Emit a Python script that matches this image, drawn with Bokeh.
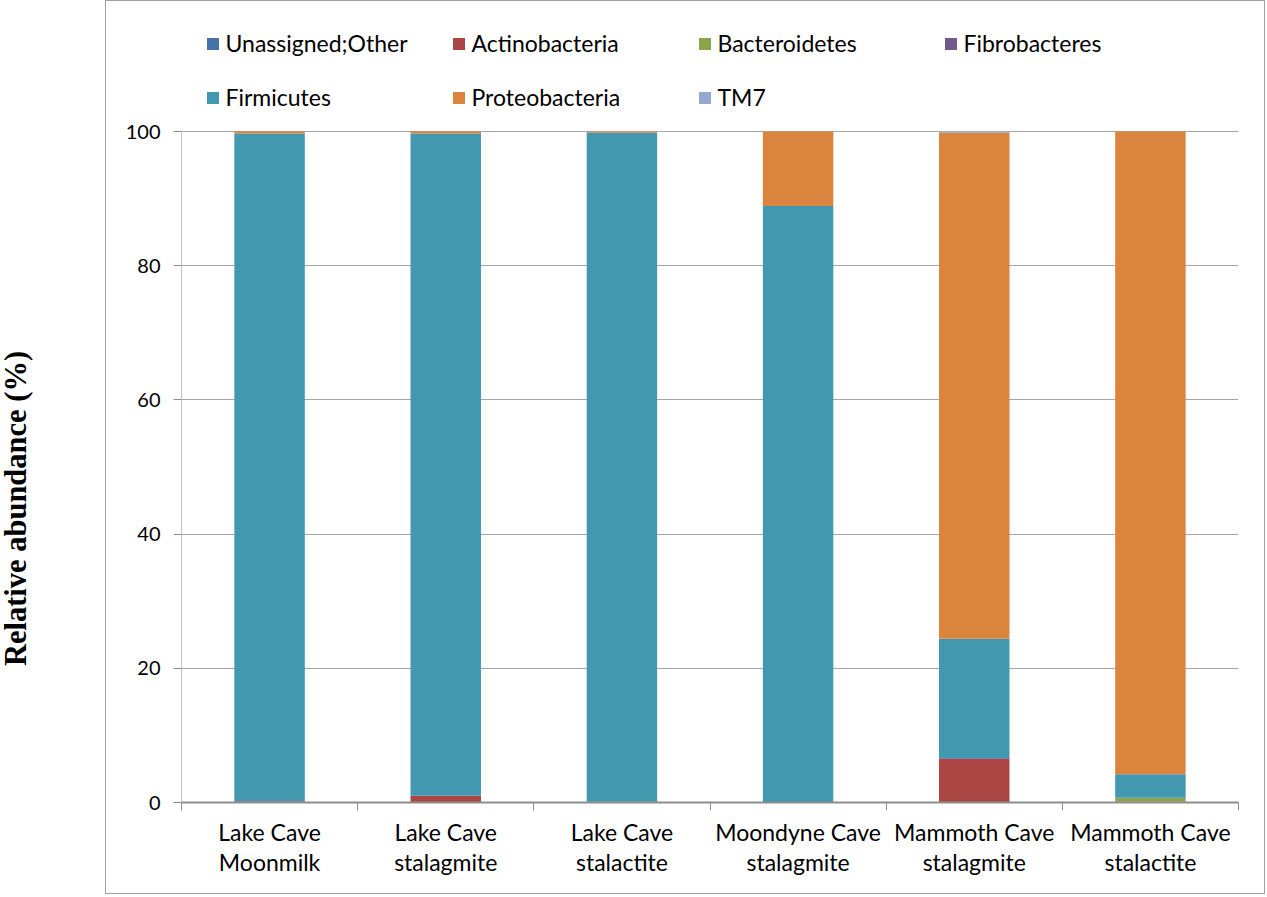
import math
from bokeh.plotting import figure
from bokeh.layouts import row
from bokeh.models import (ColumnDataSource, FixedTicker, Legend, LegendItem,
                          Label, Range1d)
from bokeh.embed import file_html
from bokeh.resources import INLINE

samples = ["Lake Cave\nMoonmilk", "Lake Cave\nstalagmite", "Lake Cave\nstalactite",
           "Moondyne Cave\nstalagmite", "Mammoth Cave\nstalagmite", "Mammoth Cave\nstalactite"]
phyla = ["Unassigned;Other", "Actinobacteria", "Bacteroidetes", "Fibrobacteres",
         "Firmicutes", "Proteobacteria", "TM7"]
colors = ["#4572A7", "#AA4643", "#89A54E", "#71588F", "#4198AF", "#DB843D", "#93A9CF"]

unassigned = [0.0, 0.0, 0.0, 0.0, 0.0, 0.0]
actinobacteria = [0.2, 1.0, 0.1, 0.0, 6.5, 0.1]
bacteroidetes = [0.0, 0.0, 0.0, 0.0, 0.0, 0.6]
fibrobacteres = [0.0, 0.0, 0.0, 0.0, 0.1, 0.0]
firmicutes = [99.5, 98.7, 99.7, 88.9, 17.8, 3.5]
proteobacteria = [0.3, 0.3, 0.2, 11.1, 75.4, 95.8]
tm7 = [0.0, 0.0, 0.0, 0.0, 0.2, 0.0]
y_ticks = [0, 20, 40, 60, 80, 100]

keys = ["k%d" % i for i in range(len(phyla))]
series = [unassigned, actinobacteria, bacteroidetes, fibrobacteres,
          firmicutes, proteobacteria, tm7]
data = {"x": [i + 0.5 for i in range(len(samples))]}
for k, s in zip(keys, series):
    data[k] = s
source = ColumnDataSource(data)

FONT = "Lato"
AX = "#8C8C8C"
H = 894
BOTTOM = 93                 # space below the x axis
PLOT_H = 671                # pixel height of the 0..100 span
FRAME_H = H - BOTTOM
Y_END = 100 * FRAME_H / PLOT_H   # extra headroom above 100 holds the legend

# left strip holding the y-axis title (outside the chart border)
t = figure(width=105, height=H, x_range=Range1d(0, 1), y_range=Range1d(0, H),
           x_axis_type=None, y_axis_type=None, output_backend="svg",
           toolbar_location=None, min_border=0)
t.outline_line_color = None
t.add_layout(Label(x=0.15, y=H - 567, angle=math.pi / 2, text="Relative abundance (%)",
                   text_font="Liberation Serif", text_font_style="bold",
                   text_font_size="30.5px", text_align="center",
                   text_baseline="middle", text_color="black"))

p = figure(width=1160, height=H, x_range=Range1d(0, len(samples)), y_range=Range1d(0, Y_END),
           output_backend="svg", toolbar_location=None,
           min_border_left=75, min_border_right=28, min_border_top=0, min_border_bottom=BOTTOM)
p.styles = {"border": "1px solid #A0A0A0", "box-sizing": "border-box"}
p.outline_line_color = None

renderers = p.vbar_stack(keys, x="x", width=0.4, color=colors, source=source, line_width=0)

# y axis (line limited to 0..100)
p.yaxis.ticker = FixedTicker(ticks=y_ticks, minor_ticks=[])
p.yaxis.axis_line_color = None
p.segment(x0=[0], y0=[y_ticks[0]], x1=[0], y1=[y_ticks[-1]], line_color=AX, line_width=1)
p.yaxis.major_tick_line_color = AX
p.yaxis.major_tick_out = 8
p.yaxis.major_tick_in = 0
p.yaxis.major_label_text_font = FONT
p.yaxis.major_label_text_font_size = "20px"
p.yaxis.major_label_text_color = "black"
p.yaxis.major_label_standoff = 13

# x axis
p.xaxis.ticker = FixedTicker(ticks=[i + 0.5 for i in range(len(samples))],
                             minor_ticks=list(range(len(samples) + 1)))
p.xaxis.major_label_overrides = {i + 0.5: s for i, s in enumerate(samples)}
p.xaxis.axis_line_color = AX
p.xaxis.axis_line_width = 2
p.xaxis.major_tick_line_color = None
p.xaxis.minor_tick_line_color = AX
p.xaxis.minor_tick_out = 8
p.xaxis.minor_tick_in = 0
p.xaxis.major_label_text_font = FONT
p.xaxis.major_label_text_font_size = "23px"
p.xaxis.major_label_text_color = "black"
p.xaxis.major_label_text_line_height = 1.08
p.xaxis.major_label_standoff = 7

p.xgrid.grid_line_color = None
p.ygrid.ticker = FixedTicker(ticks=y_ticks)
p.ygrid.grid_line_color = "#A6A6A6"

items = [LegendItem(label=ph, renderers=[r]) for ph, r in zip(phyla, renderers)]
legend = Legend(items=items, ncols=4, orientation="horizontal", location=(23.5, 691),
                padding=10, margin=0, spacing=26, glyph_width=15, glyph_height=15,
                label_height=24, label_width=199, label_standoff=6,
                label_text_font=FONT, label_text_font_size="23px", label_text_color="black",
                border_line_color=None, background_fill_alpha=0)
p.add_layout(legend, "center")

open("out.html", "w").write(file_html(row(t, p), INLINE))
